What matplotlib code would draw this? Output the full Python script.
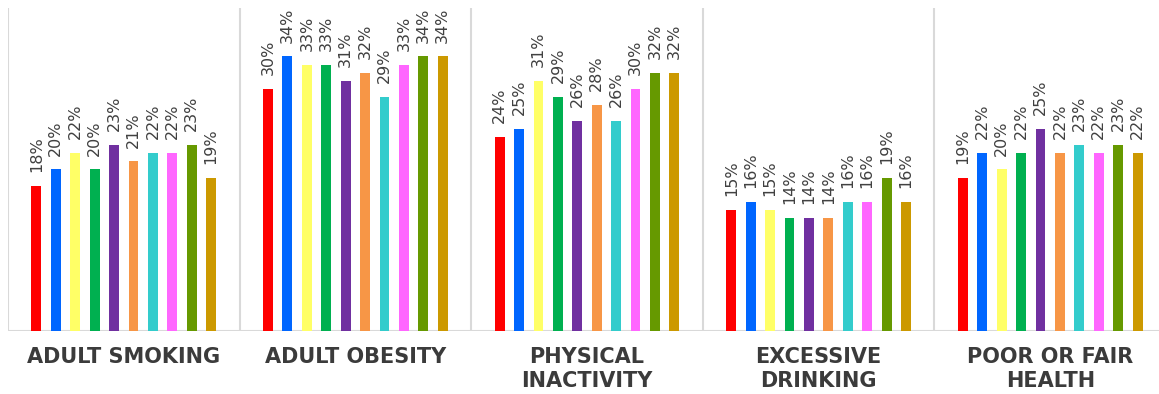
import matplotlib.pyplot as plt
import numpy as np

# dados
categorias = ["ADULT SMOKING", "ADULT OBESITY", "PHYSICAL\nINACTIVITY",
              "EXCESSIVE\nDRINKING", "POOR OR FAIR\nHEALTH"]
fumo = [18, 20, 22, 20, 23, 21, 22, 22, 23, 19]
obesidade = [30, 34, 33, 33, 31, 32, 29, 33, 34, 34]
inatividade = [24, 25, 31, 29, 26, 28, 26, 30, 32, 32]
bebida = [15, 16, 15, 14, 14, 14, 16, 16, 19, 16]
saude = [19, 22, 20, 22, 25, 22, 23, 22, 23, 22]
series = [fumo, obesidade, inatividade, bebida, saude]

cores = ["#FF0000", "#0066FF", "#FFFF66", "#00B050", "#7030A0",
         "#F79646", "#33CCCC", "#FF66FF", "#669900", "#CC9900"]

fig = plt.figure(figsize=(11.59, 3.94), dpi=100)
ax = fig.add_axes([8 / 1159, 1 - 331 / 394, 1158 / 1159, 323 / 394])

passo = 0.0838
largura = 0.043
for g, valores in enumerate(series):
    for i, v in enumerate(valores):
        x = g + (i - 4.5) * passo
        ax.bar(x, v, width=largura, color=cores[i], edgecolor="none")
        ax.annotate("%d%%" % v, (x, v), xytext=(0, 10), textcoords="offset points",
                    rotation=90, ha="center", va="bottom", fontsize=11.5,
                    color="#404040")
    ax.text(g, -2.0, categorias[g], ha="center", va="top", fontsize=15,
            fontweight="bold", color="#3b3b3b", linespacing=1.25)

# separadores
for g in range(6):
    ax.axvline(g - 0.5, color="#d9d9d9", lw=1.5, zorder=0)
ax.axhline(0, color="#d9d9d9", lw=1.5, zorder=0)

ax.set_xlim(-0.5, 4.5)
ax.set_ylim(0, 40)
ax.axis("off")

fig.savefig("out.png", dpi=100)
